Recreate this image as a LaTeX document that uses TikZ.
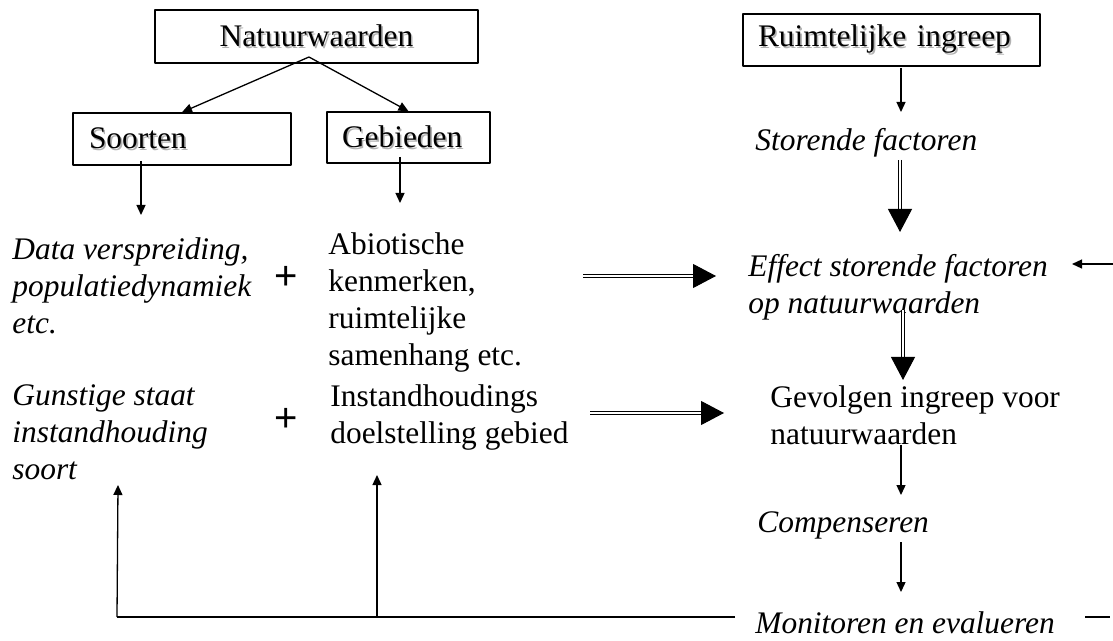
\documentclass[tikz,border=0pt]{standalone}
\usepackage{fontspec}
\setmainfont{Liberation Serif}
\newfontfamily\plusfont{Liberation Sans}
\usetikzlibrary{arrows.meta}
\tikzset{
	kader/.style={draw,line width=0.75pt,inner ysep=0pt,align=left},
	tekst/.style={anchor=north west,align=left,inner sep=0pt},
	pijl/.style={-{Triangle[length=5pt,width=4.5pt]},line width=0.65pt},
	dubbel/.style={double,double distance=1.1pt,line width=0.5pt,-{Triangle[length=11.5pt,width=12pt]}},
	plusteken/.style={font=\plusfont\fontsize{20}{20}\selectfont,inner sep=0pt},
}
\newcommand\schaduw[1]{\makebox[0pt][l]{\hspace{0.8pt}\raisebox{-0.8pt}{\color{black!30}#1}}#1}
\begin{document}
\begin{tikzpicture}[x=0.5pt,y=-0.5pt,line join=round,font=\fontsize{15.7}{18.5}\selectfont]
				\useasboundingbox (0,0) rectangle (1113,641);
				% kaders
				\node[kader,align=center,minimum width=161.5pt,minimum height=26.5pt] (natuur) at (316.5,36.5) {\schaduw{Natuurwaarden}};
				\node[kader,text width=93pt,inner xsep=8pt,minimum height=26pt] (soorten) at (182,139) {\schaduw{Soorten}};
				\node[kader,text width=66.5pt,inner xsep=7.5pt,minimum height=25.5pt] (gebieden) at (408.5,137.5) {\schaduw{Gebieden}};
				\node[kader,text width=133.5pt,inner xsep=7.5pt,minimum height=26pt] (ruimte) at (891.5,40) {\schaduw{Ruimtelijke ingreep}};
				% teksten
				\node[tekst,font=\fontsize{15.7}{18.5}\selectfont\itshape] (data) at (12,237) {Data verspreiding,\\populatiedynamiek\\etc.};
				\node[tekst] (abio) at (328,232) {Abiotische\\kenmerken,\\ruimtelijke\\samenhang etc.};
				\node[tekst,font=\fontsize{15.7}{18.5}\selectfont\itshape] (gunst) at (12,384) {Gunstige staat\\instandhouding\\soort};
				\node[tekst] (instand) at (330,384) {Instandhoudings\\doelstelling gebied};
				\node[plusteken] (plusA) at (286,278) {+};
				\node[plusteken] (plusB) at (286,420) {+};
				\node[tekst,anchor=west,font=\fontsize{15.7}{18.5}\selectfont\itshape] (storend) at (755,143) {Storende factoren};
				\node[tekst,font=\fontsize{15.7}{18.5}\selectfont\itshape] (effect) at (748,254) {Effect storende factoren\\op natuurwaarden};
				\node[tekst] (gevolg) at (770,385) {Gevolgen ingreep voor\\natuurwaarden};
				\node[tekst,anchor=west,font=\fontsize{15.7}{18.5}\selectfont\itshape] (comp) at (757,525) {Compenseren};
				\node[tekst,anchor=west,font=\fontsize{15.7}{18.5}\selectfont\itshape] (monitor) at (755,623) {Monitoren en evalueren};
				\path
				(309,57) coordinate (N)
				(141,161) coordinate (S1) (141,215) coordinate (S2)
				(400,157) coordinate (G1) (400,203) coordinate (G2)
				(583,276) coordinate (P1) (716,276) coordinate (P2)
				(590,413) coordinate (Q1) (724,413) coordinate (Q2)
				(901,68) coordinate (R1) (901,112) coordinate (R2)
				(900,160) coordinate (E1) (900,232) coordinate (E2)
				(903,310) coordinate (V1) (903,380) coordinate (V2)
				(901,445) coordinate (C1) (901,495) coordinate (C2)
				(901,542) coordinate (M1) (901,592) coordinate (M2)
				(1113,264) coordinate (T1) (1072,264) coordinate (T2)
				(1085,617) coordinate (B1) (1110,617) coordinate (B2)
				(735,617) coordinate (L1) (377,617) coordinate (L2) (117,617) coordinate (L3)
				(377,475) coordinate (U2) (118,485) coordinate (U1)
				;
				\draw[pijl] (N) -- (soorten.north);
				\draw[pijl] (N) -- (gebieden.north);
				\foreach \a/\b in {S1/S2,G1/G2,R1/R2,C1/C2,M1/M2,T1/T2}\draw[pijl] (\a) -- (\b);
				\foreach \a/\b in {P1/P2,Q1/Q2,E1/E2,V1/V2}\draw[dubbel] (\a) -- (\b);
				\draw[line width=0.75pt] (L1) -- (L3) (B1) -- (B2);
				\draw[pijl] (L3) -- (U1);
				\draw[pijl] (L2) -- (U2);
			\end{tikzpicture}
\end{document}
